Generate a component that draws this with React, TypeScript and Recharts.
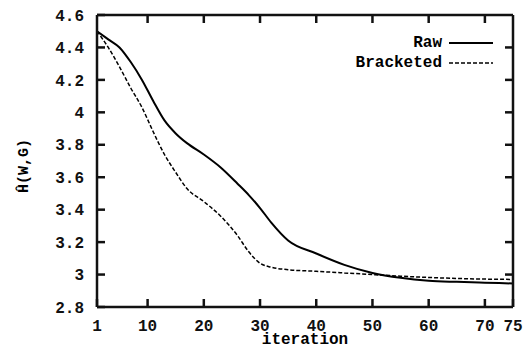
import React from "react";
import { LineChart, Line, XAxis, YAxis } from "recharts";

const iterations = [1, 3, 5, 7, 9, 11, 13, 15, 17, 20, 23, 26, 28, 30, 32, 35, 40, 45, 50, 55, 60, 65, 70, 75];
const rawValues = [4.5, 4.45, 4.4, 4.31, 4.2, 4.07, 3.95, 3.87, 3.81, 3.74, 3.66, 3.56, 3.49, 3.41, 3.32, 3.21, 3.13, 3.06, 3.01, 2.98, 2.962, 2.955, 2.95, 2.945];
const bracketedValues = [4.5, 4.4, 4.28, 4.15, 4.03, 3.88, 3.74, 3.63, 3.53, 3.45, 3.36, 3.24, 3.14, 3.07, 3.045, 3.03, 3.02, 3.01, 3.0, 2.99, 2.982, 2.976, 2.972, 2.97];

const xTicks = [1, 10, 20, 30, 40, 50, 60, 70, 75];
const xInnerTicks = [10, 20, 30, 40, 50, 60, 70];
const yTicks = [2.8, 3, 3.2, 3.4, 3.6, 3.8, 4, 4.2, 4.4, 4.6];
const yInnerTicks = [3, 3.2, 3.4, 3.6, 3.8, 4, 4.2, 4.4];

const seriesNames = ["Raw", "Bracketed"];
const xLabel = "iteration";
const yLabel = "Ĥ(W,G)";

const X_DOMAIN: [number, number] = [1, 75];
const Y_DOMAIN: [number, number] = [2.8, 4.6];

const data = iterations.map((it, i) => ({
  iteration: it,
  raw: rawValues[i],
  bracketed: bracketedValues[i],
}));

const FONT = "'Liberation Mono', 'DejaVu Sans Mono', monospace";
const INK = "#111";

const axisProps = {
  stroke: INK,
  tickSize: -8,
  interval: 0 as const,
  tickLine: { stroke: INK, strokeWidth: 2.5 },
  axisLine: { stroke: INK, strokeWidth: 2.5 },
};

function LegendBox() {
  return (
    <div
      style={{
        position: "absolute",
        top: 33,
        right: 30,
        fontFamily: FONT,
        fontSize: 16,
        fontWeight: "bold",
        lineHeight: "20px",
      }}
    >
      {seriesNames.map((name, i) => (
        <div key={name} style={{ display: "flex", justifyContent: "flex-end", alignItems: "center" }}>
          <span>{name}</span>
          <svg width={50} height={10} style={{ marginLeft: 3 }}>
            <line
              x1={4}
              y1={5}
              x2={48}
              y2={5}
              stroke="#000"
              strokeWidth={i === 0 ? 2 : 1.5}
              strokeDasharray={i === 0 ? undefined : "4 2"}
            />
          </svg>
        </div>
      ))}
    </div>
  );
}

function Titles() {
  return (
    <svg width={525} height={352} style={{ position: "absolute", left: 0, top: 0, pointerEvents: "none" }}>
      <text x={305} y={344} textAnchor="middle" fontFamily={FONT} fontWeight="bold" fontSize={16} fill="#000">
        {xLabel}
      </text>
      <text x={28} y={166} transform="rotate(-90, 28, 166)" textAnchor="middle" fontFamily={FONT} fontWeight="bold" fontSize={15} fill="#000">
        {yLabel}
      </text>
    </svg>
  );
}

export default function App() {
  return (
    <div style={{ position: "absolute", left: 0, top: 0, width: 525, height: 352, background: "#fff" }}>
      <LineChart width={525} height={352} data={data} margin={{ top: 5, right: 2, bottom: 0, left: 0 }}>
        <XAxis
          {...axisProps}
          xAxisId="bottom"
          dataKey="iteration"
          type="number"
          domain={X_DOMAIN}
          ticks={xTicks}
          height={45}
          tickMargin={21}
          fontFamily={FONT}
          fontSize={16}
          fontWeight="bold"
        />
        <XAxis
          {...axisProps}
          xAxisId="top"
          orientation="top"
          dataKey="iteration"
          type="number"
          domain={X_DOMAIN}
          ticks={xInnerTicks}
          height={10}
          tickFormatter={() => ""}
        />
        <YAxis
          {...axisProps}
          yAxisId="left"
          type="number"
          domain={Y_DOMAIN}
          ticks={yTicks}
          width={97}
          tickMargin={21}
          fontFamily={FONT}
          fontSize={16}
          fontWeight="bold"
        />
        <YAxis
          {...axisProps}
          yAxisId="right"
          orientation="right"
          type="number"
          domain={Y_DOMAIN}
          ticks={yInnerTicks}
          width={10}
          tickFormatter={() => ""}
        />
        <Line
          xAxisId="bottom"
          yAxisId="left"
          type="monotone"
          dataKey="raw"
          name={seriesNames[0]}
          stroke="#000"
          strokeWidth={2}
          dot={false}
          isAnimationActive={false}
        />
        {/* top/right axes share the same domains, so this is the same scale */}
        <Line
          xAxisId="top"
          yAxisId="right"
          type="monotone"
          dataKey="bracketed"
          name={seriesNames[1]}
          stroke="#000"
          strokeWidth={1.5}
          strokeDasharray="4 2"
          dot={false}
          isAnimationActive={false}
        />
      </LineChart>
      <Titles />
      <LegendBox />
    </div>
  );
}
